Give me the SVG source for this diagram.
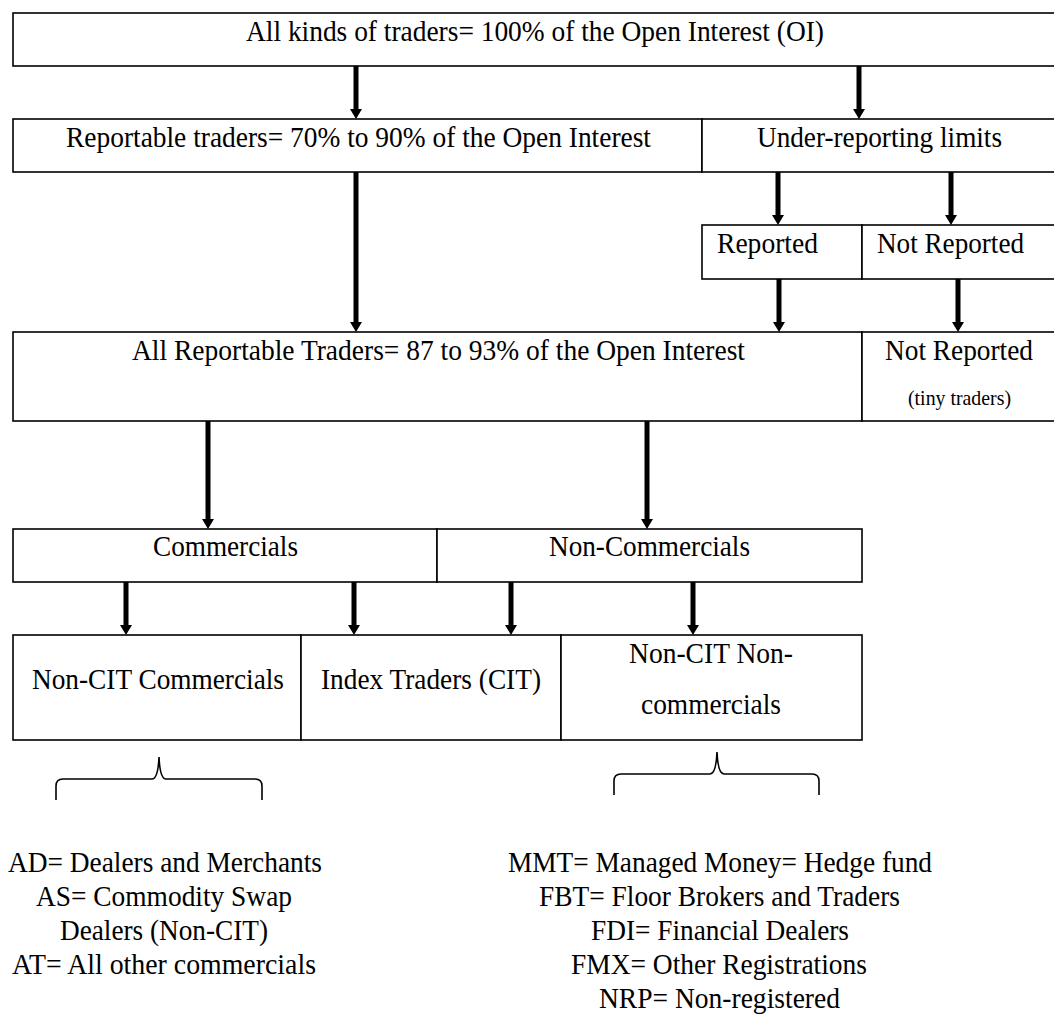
<svg xmlns="http://www.w3.org/2000/svg" width="1054" height="1014" viewBox="0 0 1054 1014">
<defs>
<marker id="ah" viewBox="0 0 10 12" refX="1" refY="6" markerWidth="10" markerHeight="12" markerUnits="userSpaceOnUse" orient="auto">
<path d="M0,0 L10,6 L0,12 z" fill="#000"/>
</marker>
<style>
rect{fill:#fff;stroke:#000;stroke-width:1.6}
text{font-family:"Liberation Serif","Times New Roman",serif;font-size:30px;fill:#000}
.s{font-size:21px}
.a{stroke:#000;stroke-width:5;fill:none;marker-end:url(#ah)}
.b{stroke:#000;stroke-width:1.6;fill:none}
</style>
</defs>
<rect x="0" y="0" width="1054" height="1014" style="fill:#fff;stroke:none"/>
<g id="n-all"><rect x="13" y="13" width="1050" height="53"/><text x="246" y="41" textLength="578" lengthAdjust="spacingAndGlyphs">All kinds of traders= 100% of the Open Interest (OI)</text></g>
<g id="n-reportable"><rect x="13" y="119" width="689" height="53"/><text x="66" y="147" textLength="585" lengthAdjust="spacingAndGlyphs">Reportable traders= 70% to 90% of the Open Interest</text></g>
<g id="n-under"><rect x="702" y="119" width="361" height="53"/><text x="757" y="147" textLength="245" lengthAdjust="spacingAndGlyphs">Under-reporting limits</text></g>
<g id="n-reported"><rect x="702" y="225" width="160" height="54"/><text x="717" y="253" textLength="101" lengthAdjust="spacingAndGlyphs">Reported</text></g>
<g id="n-notreported1"><rect x="862" y="225" width="201" height="54"/><text x="877" y="253" textLength="147" lengthAdjust="spacingAndGlyphs">Not Reported</text></g>
<g id="n-allreportable"><rect x="13" y="332" width="849" height="89"/><text x="132" y="360" textLength="613" lengthAdjust="spacingAndGlyphs">All Reportable Traders= 87 to 93% of the Open Interest</text></g>
<g id="n-notreported2"><rect x="862" y="332" width="201" height="89"/><text x="885" y="360" textLength="148" lengthAdjust="spacingAndGlyphs">Not Reported</text><text class="s" x="908" y="405" textLength="103" lengthAdjust="spacingAndGlyphs">(tiny traders)</text></g>
<g id="n-commercials"><rect x="13" y="529" width="424" height="53"/><text x="153" y="556" textLength="145" lengthAdjust="spacingAndGlyphs">Commercials</text></g>
<g id="n-noncommercials"><rect x="437" y="529" width="425" height="53"/><text x="549" y="556" textLength="201" lengthAdjust="spacingAndGlyphs">Non-Commercials</text></g>
<g id="n-noncitcomm"><rect x="13" y="635" width="288" height="105"/><text x="32" y="689" textLength="252" lengthAdjust="spacingAndGlyphs">Non-CIT Commercials</text></g>
<g id="n-index"><rect x="301" y="635" width="260" height="105"/><text x="321" y="689" textLength="220" lengthAdjust="spacingAndGlyphs">Index Traders (CIT)</text></g>
<g id="n-noncitnoncomm"><rect x="561" y="635" width="301" height="105"/><text x="629" y="663" textLength="164" lengthAdjust="spacingAndGlyphs">Non-CIT Non-</text><text x="641" y="714" textLength="140" lengthAdjust="spacingAndGlyphs">commercials</text></g>
<g id="connectors">
<line class="a" x1="356" y1="66" x2="356" y2="110"/>
<line class="a" x1="859" y1="66" x2="859" y2="110"/>
<line class="a" x1="356" y1="172" x2="356" y2="323"/>
<line class="a" x1="778" y1="172" x2="778" y2="216"/>
<line class="a" x1="951" y1="172" x2="951" y2="216"/>
<line class="a" x1="779" y1="279" x2="779" y2="323"/>
<line class="a" x1="958" y1="279" x2="958" y2="323"/>
<line class="a" x1="208" y1="421" x2="208" y2="520"/>
<line class="a" x1="647" y1="421" x2="647" y2="520"/>
<line class="a" x1="126" y1="582" x2="126" y2="626"/>
<line class="a" x1="354" y1="582" x2="354" y2="626"/>
<line class="a" x1="511" y1="582" x2="511" y2="626"/>
<line class="a" x1="693" y1="582" x2="693" y2="626"/>
</g>
<g id="brace-left"><path class="b" d="M56,800 L56,786 Q56,779 63,779 L152,779 Q158,779 159,757 Q160,779 166,779 L255,779 Q262,779 262,786 L262,800"/></g>
<g id="brace-right"><path class="b" d="M614,795 L614,781 Q614,774 621,774 L710,774 Q716,774 717,752 Q718,774 724,774 L812,774 Q819,774 819,781 L819,795"/></g>
<g id="legend-left">
<text x="8" y="872" textLength="314" lengthAdjust="spacingAndGlyphs">AD= Dealers and Merchants</text>
<text x="36" y="906" textLength="256" lengthAdjust="spacingAndGlyphs">AS= Commodity Swap</text>
<text x="60" y="940" textLength="208" lengthAdjust="spacingAndGlyphs">Dealers (Non-CIT)</text>
<text x="12" y="974" textLength="304" lengthAdjust="spacingAndGlyphs">AT= All other commercials</text>
</g>
<g id="legend-right">
<text x="508" y="872" textLength="424" lengthAdjust="spacingAndGlyphs">MMT= Managed Money= Hedge fund</text>
<text x="539" y="906" textLength="361" lengthAdjust="spacingAndGlyphs">FBT= Floor Brokers and Traders</text>
<text x="591" y="940" textLength="258" lengthAdjust="spacingAndGlyphs">FDI= Financial Dealers</text>
<text x="571" y="974" textLength="296" lengthAdjust="spacingAndGlyphs">FMX= Other Registrations</text>
<text x="599" y="1008" textLength="241" lengthAdjust="spacingAndGlyphs">NRP= Non-registered</text>
</g>
</svg>
